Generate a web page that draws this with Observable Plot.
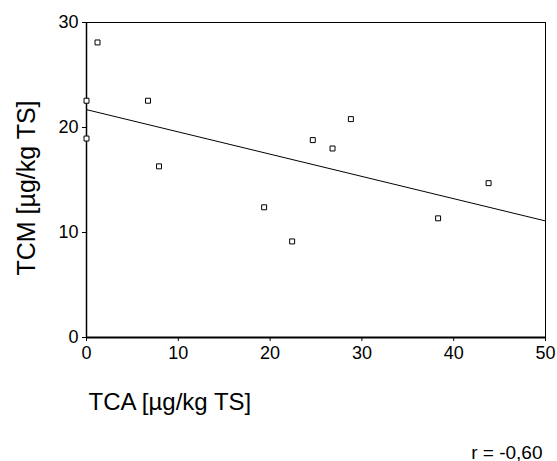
<!DOCTYPE html>
<html>
<head>
<meta charset="utf-8">
<script src="https://cdn.jsdelivr.net/npm/d3@7"></script>
<script src="https://cdn.jsdelivr.net/npm/@observablehq/plot@0.6"></script>
<style>
  html, body { margin: 0; padding: 0; background: #fff; }
  svg { display: block; }
</style>
</head>
<body>
<div id="chart"></div>
<script>
// Data points (TCA vs TCM)
const tca = [1.2, 0, 0, 6.7, 7.9, 28.8, 24.65, 26.8, 43.8, 19.35, 38.3, 22.4];
const tcm = [28.1, 22.55, 18.95, 22.55, 16.3, 20.8, 18.8, 18.0, 14.7, 12.4, 11.35, 9.15];
// Regression line end points
const fitX = [0, 50];
const fitY = [21.7, 11.1];
// Tick values
const xTicks = [0, 10, 20, 30, 40, 50];
const yTicks = [0, 10, 20, 30];
const xTitle = "TCA [µg/kg TS]";
const yTitle = "TCM [µg/kg TS]";
const rLabel = "r = -0,60";

const points = tca.map((x, i) => ({x, y: tcm[i]}));
const fit = fitX.map((x, i) => ({x, y: fitY[i]}));

const chart = Plot.plot({
  width: 557,
  height: 461,
  marginLeft: 86,
  marginRight: 12,
  marginTop: 22,
  marginBottom: 124,
  style: {fontFamily: "'Liberation Sans', Arial, sans-serif", fontSize: "18px", color: "#000", background: "#fff"},
  x: {domain: [0, 50], ticks: xTicks, label: null},
  y: {domain: [0, 30], ticks: yTicks, label: null},
  marks: [
    Plot.frame({stroke: "#000", strokeWidth: 1}),
    Plot.axisX({ticks: xTicks, tickSize: 4, tickPadding: 5, label: null, fontSize: 18}),
    Plot.axisY({ticks: yTicks, tickSize: 4, tickPadding: 4, label: null, fontSize: 18}),
    Plot.ruleX([0], {stroke: "#000", strokeWidth: 1.5}),
    Plot.ruleY([0], {stroke: "#000", strokeWidth: 2}),
    Plot.line(fit, {x: "x", y: "y", stroke: "#000", strokeWidth: 1}),
    Plot.dot(points, {x: "x", y: "y", symbol: "square", r: 2.8, stroke: "#000", fill: "#fff", strokeWidth: 1}),
    Plot.text([xTitle], {frameAnchor: "bottom-left", text: d => d, textAnchor: "start", dx: 2, dy: 72, fontSize: 24}),
    Plot.text([yTitle], {frameAnchor: "left", text: d => d, textAnchor: "middle", rotate: -90, dx: -60, dy: 8, fontSize: 25}),
    Plot.text([rLabel], {frameAnchor: "bottom-right", text: d => d, textAnchor: "end", dx: -3, dy: 121, fontSize: 19})
  ]
});
document.getElementById("chart").appendChild(chart);
</script>
</body>
</html>
